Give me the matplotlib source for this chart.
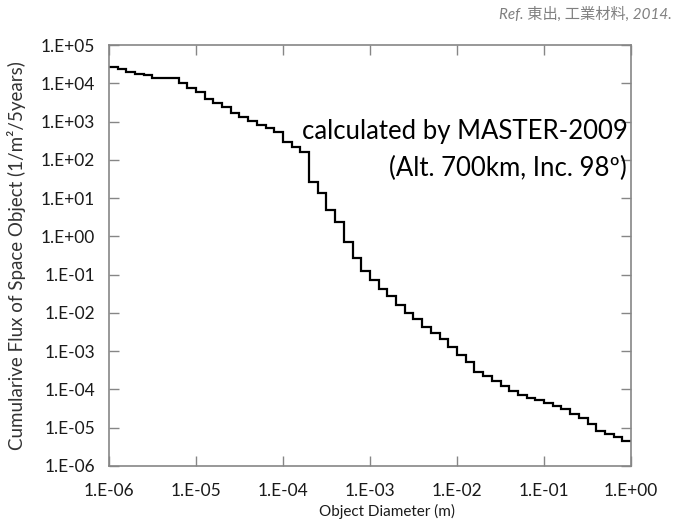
import math
import matplotlib
matplotlib.use('Agg')
import matplotlib.pyplot as plt
from matplotlib.ticker import FixedLocator, FuncFormatter

plt.rcParams['font.family'] = ['Lato', 'Noto Sans CJK JP', 'DejaVu Sans']

# bin edges of object diameter (m), 10 bins per decade
diameter_edges = [
    1.00e-6, 1.26e-6, 1.58e-6, 2.00e-6, 2.51e-6, 3.16e-6, 3.98e-6, 5.01e-6, 6.31e-6, 7.94e-6,
    1.00e-5, 1.26e-5, 1.58e-5, 2.00e-5, 2.51e-5, 3.16e-5, 3.98e-5, 5.01e-5, 6.31e-5, 7.94e-5,
    1.00e-4, 1.26e-4, 1.58e-4, 2.00e-4, 2.51e-4, 3.16e-4, 3.98e-4, 5.01e-4, 6.31e-4, 7.94e-4,
    1.00e-3, 1.26e-3, 1.58e-3, 2.00e-3, 2.51e-3, 3.16e-3, 3.98e-3, 5.01e-3, 6.31e-3, 7.94e-3,
    1.00e-2, 1.26e-2, 1.58e-2, 2.00e-2, 2.51e-2, 3.16e-2, 3.98e-2, 5.01e-2, 6.31e-2, 7.94e-2,
    1.00e-1, 1.26e-1, 1.58e-1, 2.00e-1, 2.51e-1, 3.16e-1, 3.98e-1, 5.01e-1, 6.31e-1, 7.94e-1,
    1.00,
]

# cumulative flux per bin (1/m2/5years)
flux = [
    26000, 23000, 20000, 18000, 16000, 14000, 14000, 14000, 10000, 7700,
    6000, 4000, 3000, 2360, 1710, 1340, 1050, 815, 680, 545,
    293, 221, 164, 25.7, 13.4, 5.0, 2.43, 0.73, 0.27, 0.128,
    0.0731, 0.0426, 0.0279, 0.0163, 0.00988, 0.00689, 0.00416, 0.00297, 0.00207, 0.00128,
    8.05e-4, 5.07e-4, 2.78e-4, 2.18e-4, 1.62e-4, 1.20e-4, 8.87e-5, 7.28e-5, 6.07e-5, 5.22e-5,
    4.50e-5, 3.75e-5, 3.04e-5, 2.32e-5, 1.82e-5, 1.27e-5, 8.0e-6, 6.68e-6, 5.58e-6, 4.58e-6,
]

x_ticks = [1e-6, 1e-5, 1e-4, 1e-3, 1e-2, 1e-1, 1e0]
y_ticks = [1e-6, 1e-5, 1e-4, 1e-3, 1e-2, 1e-1, 1e0, 1e1, 1e2, 1e3, 1e4, 1e5]


def excel_fmt(v, pos):
    e = int(round(math.log10(v)))
    return '1.E%+03d' % e


fig = plt.figure(figsize=(6.8, 5.26), dpi=100)
ax = fig.add_axes([0.1603, 0.1141, 0.7677, 0.8003])

ax.stairs(flux, diameter_edges, baseline=None, color='black', lw=1.6)

ax.set_xscale('log')
ax.set_yscale('log')
ax.set_xlim(1e-6, 1)
ax.set_ylim(1e-6, 1e5)
ax.xaxis.set_major_locator(FixedLocator(x_ticks))
ax.yaxis.set_major_locator(FixedLocator(y_ticks))
ax.xaxis.set_minor_locator(FixedLocator([]))
ax.yaxis.set_minor_locator(FixedLocator([]))
ax.xaxis.set_major_formatter(FuncFormatter(excel_fmt))
ax.yaxis.set_major_formatter(FuncFormatter(excel_fmt))

for s in ax.spines.values():
    s.set_color('#868686')
    s.set_linewidth(1.2)
ax.tick_params(which='major', direction='in', length=7, width=1, color='#868686',
               top=True, right=True, labelsize=12.5, labelcolor='#1a1a1a')
ax.tick_params(axis='y', pad=10)
ax.tick_params(axis='x', pad=12)

ax.set_xlabel('Object Diameter (m)', fontsize=11, color='#1a1a1a', va='center')
ax.xaxis.set_label_coords(0.533, -0.109)
ax.set_ylabel('Cumularive Flux of Space Object (1/m²/5years)', fontsize=13.5,
              color='#333333', va='center')
ax.yaxis.set_label_coords(-0.178, 0.5)

fig.text(628 / 680, 1 - 132 / 526, 'calculated by MASTER-2009', ha='right', va='center', fontsize=18.5)
fig.text(627 / 680, 1 - 168 / 526, '(Alt. 700km, Inc. 98º)', ha='right', va='center', fontsize=18.5)

fig.text(672 / 680, 1 - 14 / 526, 'Ref. 東出, 工業材料, 2014.', ha='right', va='center',
         fontsize=11, style='italic', color='#808080')

fig.savefig('out.png', dpi=100)
